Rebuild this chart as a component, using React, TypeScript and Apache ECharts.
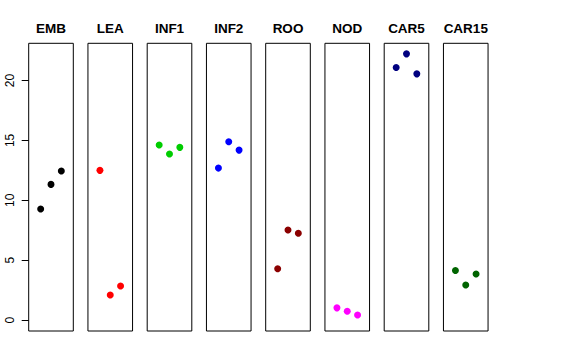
import React, { useEffect, useRef } from "react";
import * as echarts from "echarts";

const panels = ["EMB", "LEA", "INF1", "INF2", "ROO", "NOD", "CAR5", "CAR15"];
const colors = ["#000000", "#FF0000", "#00CD00", "#0000FF", "#8B0000", "#FF00FF", "#000080", "#006400"];
const xPositions = [1, 2, 3];
const EMB = [9.28, 11.33, 12.44];
const LEA = [12.5, 2.11, 2.86];
const INF1 = [14.61, 13.86, 14.42];
const INF2 = [12.69, 14.89, 14.19];
const ROO = [4.3, 7.53, 7.25];
const NOD = [1.03, 0.75, 0.44];
const CAR5 = [21.08, 22.22, 20.55];
const CAR15 = [4.14, 2.94, 3.86];
const values = [EMB, LEA, INF1, INF2, ROO, NOD, CAR5, CAR15];
const yTicks = [0, 5, 10, 15, 20];

export default function App() {
  const ref = useRef<HTMLDivElement>(null);
  useEffect(() => {
    if (!ref.current) return;
    const chart = echarts.init(ref.current, null, { renderer: "svg" });
    const yMin = -0.9;
    const yMax = 23.1;
    const top = 43.3;
    const bottom = 331;
    const h = bottom - top;
    const pxPerUnit = h / (yMax - yMin);
    const grids: any[] = [];
    const xAxes: any[] = [];
    const yAxes: any[] = [];
    const series: any[] = [];
    panels.forEach((name, i) => {
      grids.push({
        left: 28.7 + i * 59.25,
        top,
        width: 44.6,
        height: h,
        show: true,
        borderColor: "#000",
        borderWidth: 1,
        backgroundColor: "transparent",
      });
      xAxes.push({
        type: "value",
        gridIndex: i,
        min: -0.16,
        max: 4.16,
        position: "top",
        name,
        nameLocation: "middle",
        nameGap: 8,
        nameTextStyle: { fontFamily: "Liberation Sans", fontWeight: "bold", fontSize: 13.5, color: "#000" },
        axisLine: { show: false },
        axisTick: { show: false },
        axisLabel: { show: false },
        splitLine: { show: false },
      });
      yAxes.push({
        type: "value",
        gridIndex: i,
        min: yMin,
        max: yMax,
        show: false,
        splitLine: { show: false },
      });
      series.push({
        type: "scatter",
        xAxisIndex: i,
        yAxisIndex: i,
        symbolSize: 7,
        itemStyle: { color: colors[i], opacity: 1 },
        data: xPositions.map((x, j) => [x, values[i][j]]),
      });
    });
    // y axis overlay (0..20)
    const axisTop = top + (yMax - yTicks[yTicks.length - 1]) * pxPerUnit;
    const axisH = (yTicks[yTicks.length - 1] - yTicks[0]) * pxPerUnit;
    grids.push({ left: 28.7, top: axisTop, width: 44.6, height: axisH, show: false });
    xAxes.push({ type: "value", gridIndex: 8, show: false, min: 0, max: 1 });
    yAxes.push({
      type: "value",
      gridIndex: 8,
      min: 0,
      max: 20,
      interval: 5,
      axisLine: { show: false },
      axisTick: { show: true, length: 7, lineStyle: { color: "#000", width: 1 } },
      axisLabel: {
        rotate: 90,
        margin: 13,
        fontFamily: "Liberation Sans",
        fontSize: 12,
        color: "#000",
      },
      splitLine: { show: false },
    });
    chart.setOption({
      animation: false,
      backgroundColor: "#fff",
      grid: grids,
      xAxis: xAxes,
      yAxis: yAxes,
      series,
    });
    return () => chart.dispose();
  }, []);
  return <div ref={ref} style={{ position: "fixed", left: 0, top: 0, width: 576, height: 360 }} />;
}
